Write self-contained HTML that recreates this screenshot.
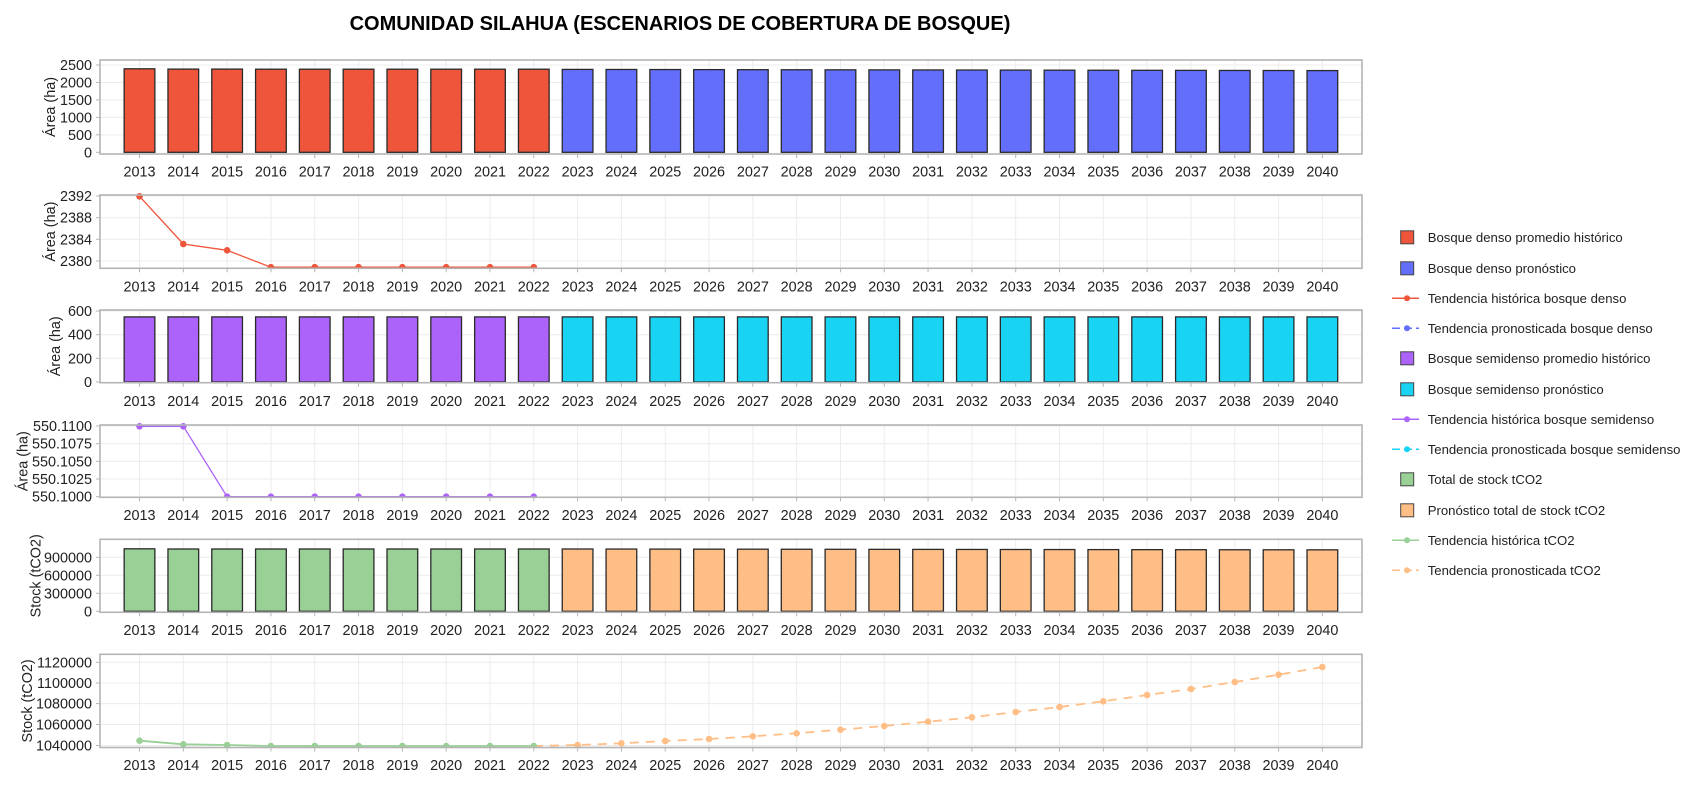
<!DOCTYPE html>
<html><head><meta charset="utf-8"><style>
html,body{margin:0;padding:0;background:#fff;}
svg{display:block;font-family:"Liberation Sans",Arial,sans-serif;}
.yl{font-size:14.4px;fill:#222;text-anchor:end;}
.xl{font-size:14.4px;fill:#222;text-anchor:middle;}
.at{font-size:14.4px;fill:#222;text-anchor:middle;}
.lg{font-size:13.15px;fill:#222;}
.g{stroke:#ececec;stroke-width:1;}
.fr{fill:none;stroke:#b4b4b4;stroke-width:1.6;}
.bar{stroke:#2a2a2a;stroke-width:1.3;}
</style></head><body>
<svg width="1700" height="800" viewBox="0 0 1700 800" xmlns="http://www.w3.org/2000/svg">
<defs>
<g id="vg">
<line x1="139.5" x2="139.5" y1="0" y2="1"/><line x1="183.31" x2="183.31" y1="0" y2="1"/><line x1="227.12" x2="227.12" y1="0" y2="1"/><line x1="270.93" x2="270.93" y1="0" y2="1"/><line x1="314.74" x2="314.74" y1="0" y2="1"/><line x1="358.55" x2="358.55" y1="0" y2="1"/><line x1="402.36" x2="402.36" y1="0" y2="1"/><line x1="446.17" x2="446.17" y1="0" y2="1"/><line x1="489.98" x2="489.98" y1="0" y2="1"/><line x1="533.79" x2="533.79" y1="0" y2="1"/><line x1="577.6" x2="577.6" y1="0" y2="1"/><line x1="621.41" x2="621.41" y1="0" y2="1"/><line x1="665.22" x2="665.22" y1="0" y2="1"/><line x1="709.03" x2="709.03" y1="0" y2="1"/><line x1="752.84" x2="752.84" y1="0" y2="1"/><line x1="796.65" x2="796.65" y1="0" y2="1"/><line x1="840.46" x2="840.46" y1="0" y2="1"/><line x1="884.27" x2="884.27" y1="0" y2="1"/><line x1="928.08" x2="928.08" y1="0" y2="1"/><line x1="971.89" x2="971.89" y1="0" y2="1"/><line x1="1015.7" x2="1015.7" y1="0" y2="1"/><line x1="1059.51" x2="1059.51" y1="0" y2="1"/><line x1="1103.32" x2="1103.32" y1="0" y2="1"/><line x1="1147.13" x2="1147.13" y1="0" y2="1"/><line x1="1190.94" x2="1190.94" y1="0" y2="1"/><line x1="1234.75" x2="1234.75" y1="0" y2="1"/><line x1="1278.56" x2="1278.56" y1="0" y2="1"/><line x1="1322.37" x2="1322.37" y1="0" y2="1"/>
</g>
<g id="xlab">
<text x="139.5">2013</text><text x="183.31">2014</text><text x="227.12">2015</text><text x="270.93">2016</text><text x="314.74">2017</text><text x="358.55">2018</text><text x="402.36">2019</text><text x="446.17">2020</text><text x="489.98">2021</text><text x="533.79">2022</text><text x="577.6">2023</text><text x="621.41">2024</text><text x="665.22">2025</text><text x="709.03">2026</text><text x="752.84">2027</text><text x="796.65">2028</text><text x="840.46">2029</text><text x="884.27">2030</text><text x="928.08">2031</text><text x="971.89">2032</text><text x="1015.7">2033</text><text x="1059.51">2034</text><text x="1103.32">2035</text><text x="1147.13">2036</text><text x="1190.94">2037</text><text x="1234.75">2038</text><text x="1278.56">2039</text><text x="1322.37">2040</text>
</g>
<clipPath id="c2"><rect x="100" y="193" width="1262" height="75.3"/></clipPath>
<clipPath id="c4"><rect x="100" y="423" width="1262" height="74.3"/></clipPath>
<clipPath id="c6"><rect x="100" y="654.3" width="1262" height="93.2"/></clipPath>
</defs>

<text x="680" y="30" text-anchor="middle" style="font-size:20px;font-weight:bold;fill:#000">COMUNIDAD SILAHUA (ESCENARIOS DE COBERTURA DE BOSQUE)</text>

<!-- ===== Panel 1 ===== -->
<g class="g" transform="translate(0,60) scale(1,94)"><use href="#vg"/></g>
<g class="g">
<line x1="100" x2="1362" y1="65" y2="65"/><line x1="100" x2="1362" y1="82.46" y2="82.46"/><line x1="100" x2="1362" y1="99.92" y2="99.92"/><line x1="100" x2="1362" y1="117.38" y2="117.38"/><line x1="100" x2="1362" y1="134.84" y2="134.84"/>
</g>
<g class="bar">
<rect x="124.15" y="68.8" width="30.7" height="83.5" fill="#EF553B"/>
<rect x="167.96" y="69.1" width="30.7" height="83.2" fill="#EF553B"/>
<rect x="211.77" y="69.1" width="30.7" height="83.2" fill="#EF553B"/>
<rect x="255.58" y="69.2" width="30.7" height="83.1" fill="#EF553B"/>
<rect x="299.39" y="69.2" width="30.7" height="83.1" fill="#EF553B"/>
<rect x="343.2" y="69.2" width="30.7" height="83.1" fill="#EF553B"/>
<rect x="387.01" y="69.2" width="30.7" height="83.1" fill="#EF553B"/>
<rect x="430.82" y="69.2" width="30.7" height="83.1" fill="#EF553B"/>
<rect x="474.63" y="69.2" width="30.7" height="83.1" fill="#EF553B"/>
<rect x="518.44" y="69.2" width="30.7" height="83.1" fill="#EF553B"/>
<rect x="562.25" y="69.4" width="30.7" height="82.9" fill="#636EFA"/>
<rect x="606.06" y="69.47" width="30.7" height="82.83" fill="#636EFA"/>
<rect x="649.87" y="69.54" width="30.7" height="82.76" fill="#636EFA"/>
<rect x="693.68" y="69.61" width="30.7" height="82.69" fill="#636EFA"/>
<rect x="737.49" y="69.68" width="30.7" height="82.62" fill="#636EFA"/>
<rect x="781.3" y="69.75" width="30.7" height="82.55" fill="#636EFA"/>
<rect x="825.11" y="69.82" width="30.7" height="82.48" fill="#636EFA"/>
<rect x="868.92" y="69.89" width="30.7" height="82.41" fill="#636EFA"/>
<rect x="912.73" y="69.96" width="30.7" height="82.34" fill="#636EFA"/>
<rect x="956.54" y="70.03" width="30.7" height="82.27" fill="#636EFA"/>
<rect x="1000.35" y="70.1" width="30.7" height="82.2" fill="#636EFA"/>
<rect x="1044.16" y="70.17" width="30.7" height="82.13" fill="#636EFA"/>
<rect x="1087.97" y="70.24" width="30.7" height="82.06" fill="#636EFA"/>
<rect x="1131.78" y="70.31" width="30.7" height="81.99" fill="#636EFA"/>
<rect x="1175.59" y="70.38" width="30.7" height="81.92" fill="#636EFA"/>
<rect x="1219.4" y="70.45" width="30.7" height="81.85" fill="#636EFA"/>
<rect x="1263.21" y="70.52" width="30.7" height="81.78" fill="#636EFA"/>
<rect x="1307.02" y="70.59" width="30.7" height="81.71" fill="#636EFA"/>
</g>
<rect class="fr" x="100" y="60" width="1262" height="94"/>
<g stroke="#b4b4b4" stroke-width="1" transform="translate(0,154) scale(1,4)"><use href="#vg"/></g>
<g stroke="#b4b4b4"><line x1="96" x2="100" y1="65" y2="65"/><line x1="96" x2="100" y1="82.46" y2="82.46"/><line x1="96" x2="100" y1="99.92" y2="99.92"/><line x1="96" x2="100" y1="117.38" y2="117.38"/><line x1="96" x2="100" y1="134.84" y2="134.84"/><line x1="96" x2="100" y1="152.3" y2="152.3"/></g>
<g class="yl"><text x="92" y="70">2500</text><text x="92" y="87.46">2000</text><text x="92" y="104.92">1500</text><text x="92" y="122.38">1000</text><text x="92" y="139.84">500</text><text x="92" y="157.3">0</text></g>
<g class="xl" transform="translate(0,176.7)"><use href="#xlab"/></g>
<text class="at" transform="translate(55,107) rotate(-90)">Área (ha)</text>

<!-- ===== Panel 2 ===== -->
<g class="g" transform="translate(0,195) scale(1,73.3)"><use href="#vg"/></g>
<g class="g"><line x1="100" x2="1362" y1="196" y2="196"/><line x1="100" x2="1362" y1="217.7" y2="217.7"/><line x1="100" x2="1362" y1="239.3" y2="239.3"/><line x1="100" x2="1362" y1="261" y2="261"/></g>
<g clip-path="url(#c2)">
<polyline fill="none" stroke="#EF553B" stroke-width="1.3" points="139.5,196.3 183.31,244 227.12,250.3 270.93,267.2 314.74,267.2 358.55,267.2 402.36,267.2 446.17,267.2 489.98,267.2 533.79,267.2"/>
<g fill="#EF553B"><circle cx="139.5" cy="196.3" r="3.3"/><circle cx="183.31" cy="244" r="3.3"/><circle cx="227.12" cy="250.3" r="3.3"/><circle cx="270.93" cy="267.2" r="3.3"/><circle cx="314.74" cy="267.2" r="3.3"/><circle cx="358.55" cy="267.2" r="3.3"/><circle cx="402.36" cy="267.2" r="3.3"/><circle cx="446.17" cy="267.2" r="3.3"/><circle cx="489.98" cy="267.2" r="3.3"/><circle cx="533.79" cy="267.2" r="3.3"/></g>
</g>
<rect class="fr" x="100" y="195" width="1262" height="73.3"/>
<g stroke="#b4b4b4" stroke-width="1" transform="translate(0,268.3) scale(1,4)"><use href="#vg"/></g>
<g stroke="#b4b4b4"><line x1="96" x2="100" y1="196" y2="196"/><line x1="96" x2="100" y1="217.7" y2="217.7"/><line x1="96" x2="100" y1="239.3" y2="239.3"/><line x1="96" x2="100" y1="261" y2="261"/></g>
<g class="yl"><text x="92" y="201">2392</text><text x="92" y="222.7">2388</text><text x="92" y="244.3">2384</text><text x="92" y="266">2380</text></g>
<g class="xl" transform="translate(0,291.7)"><use href="#xlab"/></g>
<text class="at" transform="translate(55,231.6) rotate(-90)">Área (ha)</text>

<!-- ===== Panel 3 ===== -->
<g class="g" transform="translate(0,310) scale(1,72.7)"><use href="#vg"/></g>
<g class="g"><line x1="100" x2="1362" y1="311" y2="311"/><line x1="100" x2="1362" y1="334.7" y2="334.7"/><line x1="100" x2="1362" y1="358.3" y2="358.3"/></g>
<g class="bar">
<rect x="124.15" y="316.9" width="30.7" height="65.1" fill="#AB63FA"/>
<rect x="167.96" y="316.9" width="30.7" height="65.1" fill="#AB63FA"/>
<rect x="211.77" y="316.9" width="30.7" height="65.1" fill="#AB63FA"/>
<rect x="255.58" y="316.9" width="30.7" height="65.1" fill="#AB63FA"/>
<rect x="299.39" y="316.9" width="30.7" height="65.1" fill="#AB63FA"/>
<rect x="343.2" y="316.9" width="30.7" height="65.1" fill="#AB63FA"/>
<rect x="387.01" y="316.9" width="30.7" height="65.1" fill="#AB63FA"/>
<rect x="430.82" y="316.9" width="30.7" height="65.1" fill="#AB63FA"/>
<rect x="474.63" y="316.9" width="30.7" height="65.1" fill="#AB63FA"/>
<rect x="518.44" y="316.9" width="30.7" height="65.1" fill="#AB63FA"/>
<rect x="562.25" y="316.9" width="30.7" height="65.1" fill="#19D3F3"/>
<rect x="606.06" y="316.9" width="30.7" height="65.1" fill="#19D3F3"/>
<rect x="649.87" y="316.9" width="30.7" height="65.1" fill="#19D3F3"/>
<rect x="693.68" y="316.9" width="30.7" height="65.1" fill="#19D3F3"/>
<rect x="737.49" y="316.9" width="30.7" height="65.1" fill="#19D3F3"/>
<rect x="781.3" y="316.9" width="30.7" height="65.1" fill="#19D3F3"/>
<rect x="825.11" y="316.9" width="30.7" height="65.1" fill="#19D3F3"/>
<rect x="868.92" y="316.9" width="30.7" height="65.1" fill="#19D3F3"/>
<rect x="912.73" y="316.9" width="30.7" height="65.1" fill="#19D3F3"/>
<rect x="956.54" y="316.9" width="30.7" height="65.1" fill="#19D3F3"/>
<rect x="1000.35" y="316.9" width="30.7" height="65.1" fill="#19D3F3"/>
<rect x="1044.16" y="316.9" width="30.7" height="65.1" fill="#19D3F3"/>
<rect x="1087.97" y="316.9" width="30.7" height="65.1" fill="#19D3F3"/>
<rect x="1131.78" y="316.9" width="30.7" height="65.1" fill="#19D3F3"/>
<rect x="1175.59" y="316.9" width="30.7" height="65.1" fill="#19D3F3"/>
<rect x="1219.4" y="316.9" width="30.7" height="65.1" fill="#19D3F3"/>
<rect x="1263.21" y="316.9" width="30.7" height="65.1" fill="#19D3F3"/>
<rect x="1307.02" y="316.9" width="30.7" height="65.1" fill="#19D3F3"/>
</g>
<rect class="fr" x="100" y="310" width="1262" height="72.7"/>
<g stroke="#b4b4b4" stroke-width="1" transform="translate(0,382.7) scale(1,4)"><use href="#vg"/></g>
<g stroke="#b4b4b4"><line x1="96" x2="100" y1="311" y2="311"/><line x1="96" x2="100" y1="334.7" y2="334.7"/><line x1="96" x2="100" y1="358.3" y2="358.3"/><line x1="96" x2="100" y1="382" y2="382"/></g>
<g class="yl"><text x="92" y="316">600</text><text x="92" y="339.7">400</text><text x="92" y="363.3">200</text><text x="92" y="387">0</text></g>
<g class="xl" transform="translate(0,406)"><use href="#xlab"/></g>
<text class="at" transform="translate(60,346.3) rotate(-90)">Área (ha)</text>

<!-- ===== Panel 4 ===== -->
<g class="g" transform="translate(0,425) scale(1,72.3)"><use href="#vg"/></g>
<g class="g"><line x1="100" x2="1362" y1="426" y2="426"/><line x1="100" x2="1362" y1="443.7" y2="443.7"/><line x1="100" x2="1362" y1="461.35" y2="461.35"/><line x1="100" x2="1362" y1="479" y2="479"/></g>
<g clip-path="url(#c4)">
<polyline fill="none" stroke="#AB63FA" stroke-width="1.3" points="139.5,426.3 183.31,426.3 227.12,496.7 270.93,496.7 314.74,496.7 358.55,496.7 402.36,496.7 446.17,496.7 489.98,496.7 533.79,496.7"/>
<g fill="#AB63FA"><circle cx="139.5" cy="426.3" r="3.3"/><circle cx="183.31" cy="426.3" r="3.3"/><circle cx="227.12" cy="496.7" r="3.3"/><circle cx="270.93" cy="496.7" r="3.3"/><circle cx="314.74" cy="496.7" r="3.3"/><circle cx="358.55" cy="496.7" r="3.3"/><circle cx="402.36" cy="496.7" r="3.3"/><circle cx="446.17" cy="496.7" r="3.3"/><circle cx="489.98" cy="496.7" r="3.3"/><circle cx="533.79" cy="496.7" r="3.3"/></g>
</g>
<rect class="fr" x="100" y="425" width="1262" height="72.3"/>
<g stroke="#b4b4b4" stroke-width="1" transform="translate(0,497.3) scale(1,4)"><use href="#vg"/></g>
<g stroke="#b4b4b4"><line x1="96" x2="100" y1="426" y2="426"/><line x1="96" x2="100" y1="443.7" y2="443.7"/><line x1="96" x2="100" y1="461.35" y2="461.35"/><line x1="96" x2="100" y1="479" y2="479"/><line x1="96" x2="100" y1="496.7" y2="496.7"/></g>
<g class="yl"><text x="92" y="431">550.1100</text><text x="92" y="448.7">550.1075</text><text x="92" y="466.35">550.1050</text><text x="92" y="484">550.1025</text><text x="92" y="501.7">550.1000</text></g>
<g class="xl" transform="translate(0,520)"><use href="#xlab"/></g>
<text class="at" transform="translate(27.5,461.2) rotate(-90)">Área (ha)</text>

<!-- ===== Panel 5 ===== -->
<g class="g" transform="translate(0,539.3) scale(1,73)"><use href="#vg"/></g>
<g class="g"><line x1="100" x2="1362" y1="557.3" y2="557.3"/><line x1="100" x2="1362" y1="575.3" y2="575.3"/><line x1="100" x2="1362" y1="593.3" y2="593.3"/></g>
<g class="bar">
<rect x="124.15" y="548.8" width="30.7" height="62.5" fill="#98D096"/>
<rect x="167.96" y="549" width="30.7" height="62.3" fill="#98D096"/>
<rect x="211.77" y="549" width="30.7" height="62.3" fill="#98D096"/>
<rect x="255.58" y="549" width="30.7" height="62.3" fill="#98D096"/>
<rect x="299.39" y="549" width="30.7" height="62.3" fill="#98D096"/>
<rect x="343.2" y="549" width="30.7" height="62.3" fill="#98D096"/>
<rect x="387.01" y="549" width="30.7" height="62.3" fill="#98D096"/>
<rect x="430.82" y="549" width="30.7" height="62.3" fill="#98D096"/>
<rect x="474.63" y="549" width="30.7" height="62.3" fill="#98D096"/>
<rect x="518.44" y="549" width="30.7" height="62.3" fill="#98D096"/>
<rect x="562.25" y="549" width="30.7" height="62.3" fill="#FFBE86"/>
<rect x="606.06" y="549.05" width="30.7" height="62.25" fill="#FFBE86"/>
<rect x="649.87" y="549.1" width="30.7" height="62.2" fill="#FFBE86"/>
<rect x="693.68" y="549.15" width="30.7" height="62.15" fill="#FFBE86"/>
<rect x="737.49" y="549.2" width="30.7" height="62.1" fill="#FFBE86"/>
<rect x="781.3" y="549.25" width="30.7" height="62.05" fill="#FFBE86"/>
<rect x="825.11" y="549.3" width="30.7" height="62" fill="#FFBE86"/>
<rect x="868.92" y="549.35" width="30.7" height="61.95" fill="#FFBE86"/>
<rect x="912.73" y="549.4" width="30.7" height="61.9" fill="#FFBE86"/>
<rect x="956.54" y="549.45" width="30.7" height="61.85" fill="#FFBE86"/>
<rect x="1000.35" y="549.5" width="30.7" height="61.8" fill="#FFBE86"/>
<rect x="1044.16" y="549.55" width="30.7" height="61.75" fill="#FFBE86"/>
<rect x="1087.97" y="549.6" width="30.7" height="61.7" fill="#FFBE86"/>
<rect x="1131.78" y="549.65" width="30.7" height="61.65" fill="#FFBE86"/>
<rect x="1175.59" y="549.7" width="30.7" height="61.6" fill="#FFBE86"/>
<rect x="1219.4" y="549.75" width="30.7" height="61.55" fill="#FFBE86"/>
<rect x="1263.21" y="549.8" width="30.7" height="61.5" fill="#FFBE86"/>
<rect x="1307.02" y="549.85" width="30.7" height="61.45" fill="#FFBE86"/>
</g>
<rect class="fr" x="100" y="539.3" width="1262" height="73"/>
<g stroke="#b4b4b4" stroke-width="1" transform="translate(0,612.3) scale(1,4)"><use href="#vg"/></g>
<g stroke="#b4b4b4"><line x1="96" x2="100" y1="557.3" y2="557.3"/><line x1="96" x2="100" y1="575.3" y2="575.3"/><line x1="96" x2="100" y1="593.3" y2="593.3"/><line x1="96" x2="100" y1="611.3" y2="611.3"/></g>
<g class="yl"><text x="92" y="562.3">900000</text><text x="92" y="580.3">600000</text><text x="92" y="598.3">300000</text><text x="92" y="616.3">0</text></g>
<g class="xl" transform="translate(0,635)"><use href="#xlab"/></g>
<text class="at" transform="translate(40.5,575.8) rotate(-90)">Stock (tCO2)</text>

<!-- ===== Panel 6 ===== -->
<g class="g" transform="translate(0,654.3) scale(1,93.2)"><use href="#vg"/></g>
<g class="g"><line x1="100" x2="1362" y1="662.3" y2="662.3"/><line x1="100" x2="1362" y1="683" y2="683"/><line x1="100" x2="1362" y1="703.6" y2="703.6"/><line x1="100" x2="1362" y1="724.5" y2="724.5"/><line x1="100" x2="1362" y1="745.5" y2="745.5"/></g>
<g clip-path="url(#c6)">
<polyline fill="none" stroke="#FFBE86" stroke-width="1.8" stroke-dasharray="9,7" points="533.79,746 577.6,745 621.41,743.3 665.22,741 709.03,739 752.84,736.3 796.65,733.3 840.46,729.7 884.27,726 928.08,721.7 971.89,717.3 1015.7,712 1059.51,707 1103.32,701.3 1147.13,695 1190.94,689 1234.75,682 1278.56,674.7 1322.37,667"/>
<g fill="#FFBE86"><circle cx="577.6" cy="745" r="3.3"/><circle cx="621.41" cy="743.3" r="3.3"/><circle cx="665.22" cy="741" r="3.3"/><circle cx="709.03" cy="739" r="3.3"/><circle cx="752.84" cy="736.3" r="3.3"/><circle cx="796.65" cy="733.3" r="3.3"/><circle cx="840.46" cy="729.7" r="3.3"/><circle cx="884.27" cy="726" r="3.3"/><circle cx="928.08" cy="721.7" r="3.3"/><circle cx="971.89" cy="717.3" r="3.3"/><circle cx="1015.7" cy="712" r="3.3"/><circle cx="1059.51" cy="707" r="3.3"/><circle cx="1103.32" cy="701.3" r="3.3"/><circle cx="1147.13" cy="695" r="3.3"/><circle cx="1190.94" cy="689" r="3.3"/><circle cx="1234.75" cy="682" r="3.3"/><circle cx="1278.56" cy="674.7" r="3.3"/><circle cx="1322.37" cy="667" r="3.3"/></g>
<polyline fill="none" stroke="#98D096" stroke-width="1.8" points="139.5,740.7 183.31,744.3 227.12,745 270.93,746 314.74,746 358.55,746 402.36,746 446.17,746 489.98,746 533.79,746"/>
<g fill="#98D096"><circle cx="139.5" cy="740.7" r="3.3"/><circle cx="183.31" cy="744.3" r="3.3"/><circle cx="227.12" cy="745" r="3.3"/><circle cx="270.93" cy="746" r="3.3"/><circle cx="314.74" cy="746" r="3.3"/><circle cx="358.55" cy="746" r="3.3"/><circle cx="402.36" cy="746" r="3.3"/><circle cx="446.17" cy="746" r="3.3"/><circle cx="489.98" cy="746" r="3.3"/><circle cx="533.79" cy="746" r="3.3"/></g>
</g>
<rect class="fr" x="100" y="654.3" width="1262" height="93.2"/>
<g stroke="#b4b4b4" stroke-width="1" transform="translate(0,747.5) scale(1,4)"><use href="#vg"/></g>
<g stroke="#b4b4b4"><line x1="96" x2="100" y1="662.3" y2="662.3"/><line x1="96" x2="100" y1="683" y2="683"/><line x1="96" x2="100" y1="703.6" y2="703.6"/><line x1="96" x2="100" y1="724.5" y2="724.5"/><line x1="96" x2="100" y1="745.5" y2="745.5"/></g>
<g class="yl"><text x="92" y="667.3">1120000</text><text x="92" y="688">1100000</text><text x="92" y="708.6">1080000</text><text x="92" y="729.5">1060000</text><text x="92" y="750.5">1040000</text></g>
<g class="xl" transform="translate(0,770)"><use href="#xlab"/></g>
<text class="at" transform="translate(32,700.9) rotate(-90)">Stock (tCO2)</text>

<!-- ===== Legend ===== -->
<g stroke="#444" stroke-width="1">
<rect x="1400.7" y="230.8" width="13" height="13" fill="#EF553B"/>
<rect x="1400.7" y="261.8" width="13" height="13" fill="#636EFA"/>
<rect x="1400.7" y="351.8" width="13" height="13" fill="#AB63FA"/>
<rect x="1400.7" y="382.8" width="13" height="13" fill="#19D3F3"/>
<rect x="1400.7" y="472.8" width="13" height="13" fill="#98D096"/>
<rect x="1400.7" y="503.8" width="13" height="13" fill="#FFBE86"/>
</g>
<g stroke-width="1.5">
<line x1="1392" x2="1419" y1="298.3" y2="298.3" stroke="#EF553B"/>
<line x1="1392" x2="1419" y1="328.3" y2="328.3" stroke="#636EFA" stroke-dasharray="8,4"/>
<line x1="1392" x2="1419" y1="419.3" y2="419.3" stroke="#AB63FA"/>
<line x1="1392" x2="1419" y1="449.3" y2="449.3" stroke="#19D3F3" stroke-dasharray="8,4"/>
<line x1="1392" x2="1419" y1="540.3" y2="540.3" stroke="#98D096"/>
<line x1="1392" x2="1419" y1="570.3" y2="570.3" stroke="#FFBE86" stroke-dasharray="8,4"/>
</g>
<circle cx="1407" cy="298.3" r="3" fill="#EF553B"/>
<circle cx="1407" cy="328.3" r="3" fill="#636EFA"/>
<circle cx="1407" cy="419.3" r="3" fill="#AB63FA"/>
<circle cx="1407" cy="449.3" r="3" fill="#19D3F3"/>
<circle cx="1407" cy="540.3" r="3" fill="#98D096"/>
<circle cx="1407" cy="570.3" r="3" fill="#FFBE86"/>
<g class="lg">
<text x="1427.7" y="241.9">Bosque denso promedio histórico</text>
<text x="1427.7" y="272.9">Bosque denso pronóstico</text>
<text x="1427.7" y="302.9">Tendencia histórica bosque denso</text>
<text x="1427.7" y="332.9">Tendencia pronosticada bosque denso</text>
<text x="1427.7" y="362.9">Bosque semidenso promedio histórico</text>
<text x="1427.7" y="393.9">Bosque semidenso pronóstico</text>
<text x="1427.7" y="423.9">Tendencia histórica bosque semidenso</text>
<text x="1427.7" y="453.9">Tendencia pronosticada bosque semidenso</text>
<text x="1427.7" y="483.9">Total de stock tCO2</text>
<text x="1427.7" y="514.9">Pronóstico total de stock tCO2</text>
<text x="1427.7" y="544.9">Tendencia histórica tCO2</text>
<text x="1427.7" y="574.9">Tendencia pronosticada tCO2</text>
</g>
</svg>
</body></html>
